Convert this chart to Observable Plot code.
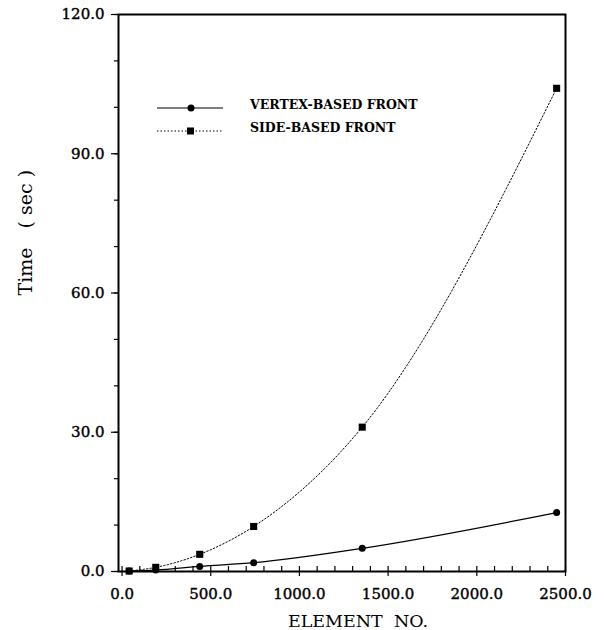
<!DOCTYPE html>
<html>
<head>
<meta charset="utf-8">
<script src="https://cdn.jsdelivr.net/npm/d3@7"></script>
<script src="https://cdn.jsdelivr.net/npm/@observablehq/plot@0.6"></script>
<style>
  body { margin: 0; background: #fff; }
  #wrap { position: relative; width: 605px; height: 630px; }
  #legend { position: absolute; left: 0; top: 0; }
</style>
</head>
<body>
<div id="wrap"></div>
<script>
// Data
const elements = [40, 190, 438, 742, 1354, 2450];
const vertexTime = [0.1, 0.3, 1.1, 1.9, 5.0, 12.7];
const sideTime = [0.1, 0.9, 3.7, 9.7, 31.1, 104.1];
const seriesNames = ["VERTEX-BASED FRONT", "SIDE-BASED FRONT"];
const xMajorTicks = [0, 500, 1000, 1500, 2000, 2500];
const yMajorTicks = [0, 30, 60, 90, 120];
const xTitle = "ELEMENT  NO.";
const yTitle = "Time\u2003( sec )";

const vertex = elements.map((x, i) => ({x, y: vertexTime[i]}));
const side = elements.map((x, i) => ({x, y: sideTime[i]}));

const serif = "DejaVu Serif";
const fmt = d => d.toFixed(1);

const chart = Plot.plot({
  width: 605,
  height: 630,
  marginLeft: 118,
  marginRight: 40,
  marginTop: 14,
  marginBottom: 59,
  style: {fontFamily: serif, fontSize: "15px", color: "black", background: "white", overflow: "visible"},
  x: {domain: [-20, 2500]},
  y: {domain: [0, 120]},
  marks: [
    Plot.axisY({ticks: d3.range(0, 121, 10), tickSize: 4, tickFormat: () => "", label: null, strokeWidth: 1.2}),
    Plot.axisY({ticks: yMajorTicks, tickSize: 7, tickPadding: 7, tickFormat: fmt, label: null, strokeWidth: 1.2,
      textStroke: "black", textStrokeWidth: 0.4}),
    Plot.axisX({ticks: d3.range(0, 2501, 100), tickSize: -5, tickFormat: () => "", label: null, strokeWidth: 1.2}),
    Plot.axisX({ticks: xMajorTicks, tickSize: 5, tickPadding: 12, tickFormat: fmt, label: null, strokeWidth: 1.2,
      textStroke: "black", textStrokeWidth: 0.4}),
    Plot.frame({stroke: "black", strokeWidth: 2}),
    Plot.text([xTitle], {frameAnchor: "bottom", dx: 16, dy: 55, lineAnchor: "bottom",
      fontSize: 17.5, fontFamily: serif, fill: "black"}),
    Plot.text([yTitle], {frameAnchor: "left", rotate: -90, textAnchor: "start", dx: -87, dy: 2.5, lineAnchor: "bottom",
      fontSize: 19, fontFamily: serif, fill: "black"}),
    Plot.line(vertex, {x: "x", y: "y", curve: "monotone-x", stroke: "black", strokeWidth: 1.2}),
    Plot.line(side, {x: "x", y: "y", curve: "monotone-x", stroke: "black", strokeWidth: 1, strokeDasharray: "1.5,2"}),
    Plot.dot(vertex, {x: "x", y: "y", r: 3.5, fill: "black"}),
    Plot.dot(side, {x: "x", y: "y", symbol: "square", r: 4, fill: "black"})
  ]
});
document.getElementById("wrap").appendChild(chart);

// Legend overlay (inside the plot frame, like the reference)
const legend = d3.select("#wrap").append("svg")
  .attr("id", "legend").attr("width", 605).attr("height", 630);
const rows = legend.selectAll("g").data(seriesNames).join("g")
  .attr("transform", (d, i) => `translate(157,${108 + i * 23})`);
rows.append("line").attr("x1", 0).attr("x2", 66).attr("y1", 0).attr("y2", 0)
  .attr("stroke", "black").attr("stroke-width", (d, i) => i === 0 ? 1.2 : 1)
  .attr("stroke-dasharray", (d, i) => i === 0 ? null : "1.5,2");
rows.each(function(d, i) {
  const g = d3.select(this);
  if (i === 0) g.append("circle").attr("cx", 34).attr("cy", 0).attr("r", 3.5).attr("fill", "black");
  else g.append("rect").attr("x", 30).attr("y", -3.5).attr("width", 7).attr("height", 7).attr("fill", "black");
});
rows.append("text").attr("x", 93).attr("y", 1)
  .attr("font-family", serif).attr("font-weight", "bold").attr("font-size", 12.5)
  .text(d => d);
</script>
</body>
</html>
